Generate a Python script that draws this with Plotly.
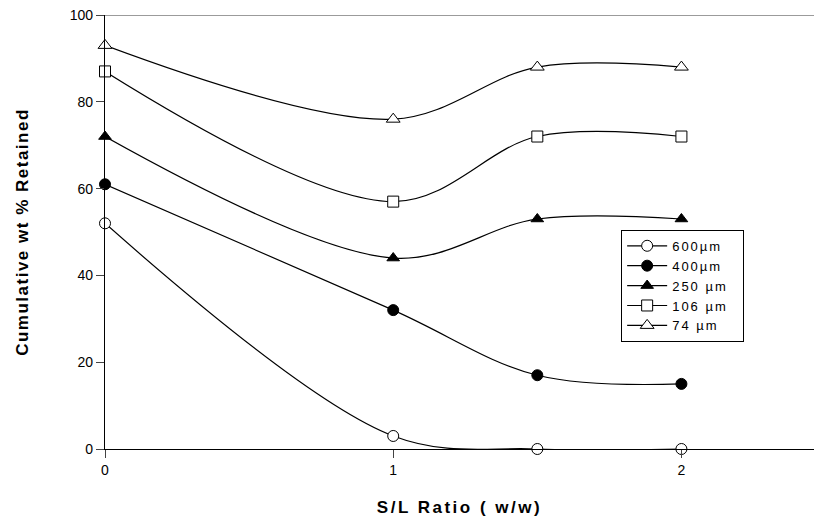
import plotly.graph_objects as go

# S/L ratio (w/w) and cumulative wt % retained for each sieve size
sl_ratio = [0, 1, 1.5, 2]
names = ["600\u00b5m", "400\u00b5m", "250 \u00b5m", "106 \u00b5m", "74 \u00b5m"]
retained_600 = [52, 3, 0, 0]
retained_400 = [61, 32, 17, 15]
retained_250 = [72, 44, 53, 53]
retained_106 = [87, 57, 72, 72]
retained_74 = [93, 76, 88, 88]

series = [retained_600, retained_400, retained_250, retained_106, retained_74]
symbols = ["circle", "circle", "triangle-up", "square", "triangle-up"]
fills = ["white", "black", "black", "white", "white"]
sizes = [11, 11, 11, 11, 12]

FONT = "Liberation Sans, Arial, sans-serif"

fig = go.Figure()
for name, ys, sym, fill, sz in zip(names, series, symbols, fills, sizes):
    fig.add_trace(go.Scatter(
        x=sl_ratio, y=ys, name=name,
        mode="lines+markers",
        line=dict(color="black", width=1.2, shape="spline", smoothing=1.0),
        marker=dict(symbol=sym, size=sz, color=fill, line=dict(color="black", width=1)),
        cliponaxis=False,
    ))

# grey reference line across the top at 100 %
fig.add_shape(type="line", xref="paper", yref="y", x0=-0.011, x1=1, y0=100, y1=100,
              line=dict(color="#7a7a7a", width=1.5), layer="below")

fig.update_layout(
    width=814, height=528,
    margin=dict(l=105, r=0, t=15, b=79),
    paper_bgcolor="white", plot_bgcolor="white",
    font=dict(family=FONT, size=14, color="black"),
    showlegend=True,
    legend=dict(x=0.728, y=0.505, xanchor="left", yanchor="top",
                bordercolor="black", borderwidth=1, bgcolor="white",
                font=dict(family=FONT, size=13), tracegroupgap=0, itemwidth=40),
    xaxis=dict(range=[0, 2.46], tickvals=[0, 1, 2], ticks="outside", ticklen=8,
               showline=True, linecolor="black", linewidth=1.3, showgrid=False,
               zeroline=False, tickfont=dict(size=14),
               title=dict(text="<b>S/L Ratio ( w/w)</b>", font=dict(size=17), standoff=24)),
    yaxis=dict(range=[0, 100], tickvals=[0, 20, 40, 60, 80, 100], ticks="outside", ticklen=8,
               showline=True, linecolor="black", linewidth=1.3, showgrid=False,
               zeroline=False, tickfont=dict(size=14),
               title=dict(text="<b>Cumulative wt % Retained</b>", font=dict(size=17), standoff=36)),
)

# widen the letter spacing of the axis titles and legend labels after each render,
# and grow the legend box (and its clip area) to fit the wider labels
spacing_js = """
var gd = document.getElementById('{plot_id}');
var EXTRA = 22;
function spaceText() {
  gd.querySelectorAll('.g-xtitle text').forEach(function (t) { t.style.letterSpacing = '2.5px'; });
  gd.querySelectorAll('.g-ytitle text').forEach(function (t) { t.style.letterSpacing = '1.5px'; });
  gd.querySelectorAll('.legend .legendtext').forEach(function (t) { t.style.letterSpacing = '2px'; });
  var rects = [];
  gd.querySelectorAll('.legend rect.bg').forEach(function (r) { rects.push(r); });
  gd.querySelectorAll('clipPath[id*="legend"] rect').forEach(function (r) { rects.push(r); });
  rects.forEach(function (r) {
    if (!r.dataset.widened) {
      r.setAttribute('width', parseFloat(r.getAttribute('width')) + EXTRA);
      r.dataset.widened = '1';
    }
  });
}
gd.on('plotly_afterplot', spaceText);
spaceText();
"""

fig.write_html("out.html", post_script=spacing_js)
